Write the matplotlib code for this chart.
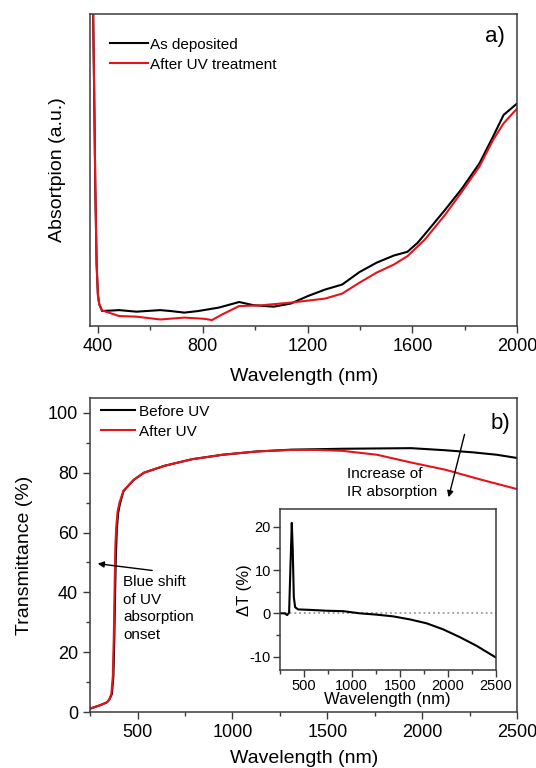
import numpy as np
import matplotlib
matplotlib.use("Agg")
from matplotlib import pyplot as plt
from matplotlib.ticker import MultipleLocator

plt.rcParams['font.family'] = ['Liberation Sans', 'DejaVu Sans']
plt.rcParams['axes.unicode_minus'] = False

# panel a) absorption (arbitrary units, 0..1 of the axis)
abs_wl_dep = [381, 385, 390, 395, 400, 405, 416, 481, 547, 638, 678, 730, 782, 861, 939, 992,
              1070, 1136, 1201, 1267, 1332, 1398, 1463, 1529, 1581, 1620, 1660, 1725, 1790,
              1856, 1908, 1948, 2000]
abs_dep = [1.05, 0.8, 0.45, 0.2, 0.1, 0.07, 0.048, 0.051, 0.046, 0.051, 0.048, 0.043, 0.048,
           0.059, 0.077, 0.067, 0.062, 0.072, 0.096, 0.117, 0.133, 0.173, 0.203, 0.226, 0.238,
           0.267, 0.307, 0.373, 0.442, 0.522, 0.608, 0.677, 0.714]
abs_wl_uv = [381, 385, 390, 395, 400, 405, 416, 481, 547, 638, 730, 808, 835, 874, 939, 1018,
             1136, 1267, 1332, 1398, 1463, 1529, 1581, 1647, 1725, 1790, 1856, 1908, 1948, 2000]
abs_uv = [1.05, 0.8, 0.45, 0.2, 0.1, 0.07, 0.05, 0.032, 0.030, 0.021, 0.027, 0.023, 0.019,
          0.037, 0.064, 0.066, 0.075, 0.088, 0.104, 0.139, 0.171, 0.197, 0.224, 0.277, 0.357,
          0.432, 0.512, 0.597, 0.650, 0.698]

# panel b) transmittance (%)
tr_wl_before = [253, 300, 338, 350, 365, 373, 378, 382, 386, 391, 398, 407, 426, 480, 534, 642,
                787, 949, 1129, 1310, 1580, 1941, 2121, 2266, 2392, 2500]
tr_before = [1.2, 2.2, 3.2, 4.0, 6.0, 12, 25, 40, 52, 61, 66.5, 69.5, 73.8, 77.6, 80, 82.3,
             84.5, 86, 87.1, 87.7, 88, 88.2, 87.5, 86.8, 86, 84.9]
tr_wl_after = [253, 300, 338, 350, 362, 370, 375, 379, 383, 388, 395, 405, 426, 480, 534, 642,
               787, 949, 1129, 1310, 1450, 1580, 1761, 1941, 2121, 2302, 2500]
tr_after = [1.2, 2.2, 3.2, 4.0, 6.0, 12, 25, 40, 55, 62, 67, 70, 74, 77.6, 80, 82.3,
            84.5, 86, 87.1, 87.6, 87.6, 87.3, 86, 83.4, 81, 77.8, 74.5]

# inset: difference in transmittance (%)
dt_wl = [250, 302, 326, 347, 361, 375, 385, 396, 410, 441, 562, 736, 910, 1083, 1257, 1430,
         1604, 1778, 1951, 2125, 2299, 2500]
dt = [0, 0, -0.4, 0.15, 10.8, 20.9, 14.6, 3.8, 1.4, 0.9, 0.8, 0.6, 0.5, 0, -0.3, -0.7,
      -1.4, -2.3, -3.7, -5.5, -7.5, -10.2]

RED = '#e3151c'
SPINE = '#3a3a3a'


def style(ax, size=13, pad=3.5):
    for s in ax.spines.values():
        s.set_color(SPINE)
        s.set_linewidth(1.1)
    ax.tick_params(which='both', direction='out', color=SPINE, labelsize=size,
                   top=False, right=False, pad=pad)
    ax.tick_params(which='major', length=5, width=1)
    ax.tick_params(which='minor', length=3, width=1)


fig = plt.figure(figsize=(5.36, 7.68), dpi=100)

# ---- a)
ax1 = fig.add_axes([0.168, 0.5755, 0.797, 0.406])
ax1.plot(abs_wl_dep, abs_dep, color='black', lw=1.5, label='As deposited')
ax1.plot(abs_wl_uv, abs_uv, color=RED, lw=1.5, label='After UV treatment')
ax1.set_xlim(370, 2000)
ax1.set_ylim(0, 1)
ax1.xaxis.set_major_locator(MultipleLocator(400))
ax1.xaxis.set_minor_locator(MultipleLocator(200))
ax1.set_yticks([])
style(ax1)
ax1.set_xlabel('Wavelength (nm)', fontsize=14)
ax1.set_ylabel('Absortpion (a.u.)', fontsize=14)
ax1.xaxis.set_label_coords(0.5, -0.135)
ax1.yaxis.set_label_coords(-0.057, 0.5)
ax1.legend(loc='upper left', bbox_to_anchor=(0.047, 0.925), frameon=False, fontsize=11,
           handlelength=2.5, handletextpad=0.12, labelspacing=0.4, borderpad=0,
           borderaxespad=0)
ax1.text(0.972, 0.93, 'a)', transform=ax1.transAxes, ha='right', va='center', fontsize=16)

# ---- b)
ax2 = fig.add_axes([0.168, 0.0729, 0.797, 0.409])
ax2.plot(tr_wl_before, tr_before, color='black', lw=1.5, label='Before UV')
ax2.plot(tr_wl_after, tr_after, color=RED, lw=1.5, label='After UV')
ax2.set_xlim(250, 2500)
ax2.set_ylim(0, 105)
ax2.xaxis.set_major_locator(MultipleLocator(500))
ax2.xaxis.set_minor_locator(MultipleLocator(250))
ax2.yaxis.set_major_locator(MultipleLocator(20))
ax2.yaxis.set_minor_locator(MultipleLocator(10))
style(ax2)
ax2.set_xlabel('Wavelength (nm)', fontsize=14)
ax2.set_ylabel('Transmittance (%)', fontsize=14)
ax2.xaxis.set_label_coords(0.5, -0.121)
ax2.yaxis.set_label_coords(-0.134, 0.5)
ax2.legend(loc='upper left', bbox_to_anchor=(0.025, 0.978), frameon=False, fontsize=11,
           handlelength=2.25, handletextpad=0.27, labelspacing=0.38, borderpad=0,
           borderaxespad=0)
ax2.text(0.984, 0.92, 'b)', transform=ax2.transAxes, ha='right', va='center', fontsize=16)

ax2.annotate('', xy=(276, 49.7), xytext=(592, 47.2),
             arrowprops=dict(arrowstyle='-|>', color='black', lw=1, mutation_scale=9))
ax2.text(425, 34.6, 'Blue shift\nof UV\nabsorption\nonset', ha='left', va='center',
         fontsize=11, linespacing=1.35)
ax2.annotate('', xy=(2135, 70.9), xytext=(2226, 93.7),
             arrowprops=dict(arrowstyle='-|>', color='black', lw=1, mutation_scale=9))
ax2.text(1603, 76.5, 'Increase of\nIR absorption', ha='left', va='center', fontsize=11,
         linespacing=1.35)

# ---- inset
ax3 = fig.add_axes([0.522, 0.1276, 0.403, 0.209])
ax3.axhline(0, color='#999999', ls=':', lw=1.3)
ax3.plot(dt_wl, dt, color='black', lw=1.5)
ax3.set_xlim(250, 2500)
ax3.set_ylim(-13.1, 24)
ax3.xaxis.set_major_locator(MultipleLocator(500))
ax3.xaxis.set_minor_locator(MultipleLocator(250))
ax3.yaxis.set_major_locator(MultipleLocator(10))
ax3.yaxis.set_minor_locator(MultipleLocator(5))
style(ax3, size=10.5, pad=1.5)
ax3.set_xlabel('Wavelength (nm)', fontsize=12)
ax3.set_ylabel('ΔT (%)', fontsize=12)
ax3.xaxis.set_label_coords(0.5, -0.14)
ax3.yaxis.set_label_coords(-0.127, 0.5)

fig.savefig('out.png', dpi=100)
